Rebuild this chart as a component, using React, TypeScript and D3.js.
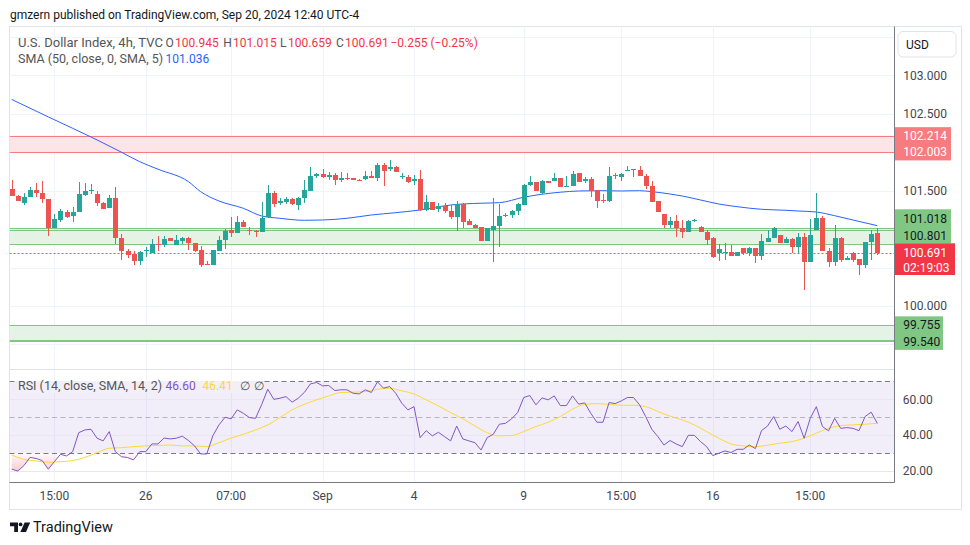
import React from "react";
import * as d3 from "d3";

// 4h candles (oldest first)
const opens = [
  101.521, 101.435, 101.335, 101.413, 101.513, 101.474, 101.396, 101.013, 101.122, 101.226,
  101.174, 101.217, 101.448, 101.5, 101.456, 101.343, 101.27, 101.409, 100.882, 100.713,
  100.678, 100.587, 100.713, 100.691, 100.809, 100.787, 100.887, 100.795, 100.848, 100.887,
  100.822, 100.73, 100.548, 100.535, 100.717, 100.852, 100.987, 100.943, 101.095, 100.987,
  100.974, 100.956, 101.152, 101.469, 101.335, 101.356, 101.391, 101.309, 101.4, 101.5,
  101.687, 101.722, 101.678, 101.7, 101.635, 101.665, 101.669, 101.643, 101.648, 101.695,
  101.661, 101.839, 101.778, 101.813, 101.682, 101.682, 101.622, 101.656, 101.248, 101.356,
  101.261, 101.304, 101.239, 101.152, 101.33, 101.108, 101.052, 101.03, 100.848, 100.991,
  101.043, 101.178, 101.183, 101.23, 101.313, 101.569, 101.617, 101.474, 101.63, 101.622,
  101.669, 101.556, 101.556, 101.735, 101.626, 101.656, 101.513, 101.378, 101.369, 101.704,
  101.674, 101.765, 101.778, 101.774, 101.696, 101.565, 101.369, 101.2, 101.048, 101.108,
  101.013, 100.957, 101.104, 101.03, 100.965, 100.878, 100.687, 100.683, 100.704, 100.656,
  100.752, 100.683, 100.748, 100.652, 100.835, 100.878, 100.926, 100.813, 100.865, 100.761,
  100.9, 100.578, 100.991, 101.143, 100.717, 100.578, 100.883, 100.604, 100.683, 100.613,
  100.535, 100.826, 100.945,
];
const highs = [
  101.639, 101.448, 101.465, 101.543, 101.595, 101.63, 101.396, 101.195, 101.265, 101.252,
  101.291, 101.617, 101.6, 101.587, 101.491, 101.356, 101.448, 101.552, 100.935, 100.735,
  100.709, 100.717, 100.761, 100.874, 100.909, 100.913, 100.887, 100.926, 100.9, 100.9,
  100.822, 100.783, 100.587, 100.73, 100.904, 101.004, 101.161, 101.174, 101.122, 101.03,
  100.987, 101.356, 101.578, 101.5, 101.4, 101.413, 101.404, 101.422, 101.639, 101.804,
  101.735, 101.783, 101.748, 101.735, 101.743, 101.735, 101.669, 101.652, 101.761, 101.761,
  101.865, 101.861, 101.9, 101.826, 101.73, 101.709, 101.7, 101.774, 101.448, 101.356,
  101.335, 101.343, 101.317, 101.369, 101.343, 101.126, 101.065, 101.03, 101.013, 101.4,
  101.326, 101.213, 101.252, 101.339, 101.587, 101.696, 101.617, 101.643, 101.63, 101.726,
  101.669, 101.687, 101.761, 101.735, 101.683, 101.683, 101.513, 101.456, 101.813, 101.726,
  101.735, 101.826, 101.787, 101.826, 101.717, 101.63, 101.369, 101.2, 101.161, 101.187,
  101.122, 101.122, 101.135, 101.043, 100.987, 100.891, 100.8, 100.822, 100.795, 100.704,
  100.752, 100.761, 100.748, 100.935, 100.987, 101.022, 100.926, 100.891, 100.878, 100.952,
  100.952, 101.135, 101.474, 101.169, 100.752, 101.056, 100.896, 100.652, 100.704, 100.613,
  100.835, 100.987, 101.015,
];
const lows = [
  101.426, 101.361, 101.309, 101.413, 101.413, 101.343, 100.913, 101.013, 101.091, 101.143,
  101.087, 101.217, 101.435, 101.456, 101.295, 101.256, 101.27, 100.809, 100.604, 100.622,
  100.535, 100.535, 100.639, 100.691, 100.709, 100.769, 100.848, 100.795, 100.804, 100.726,
  100.704, 100.509, 100.535, 100.535, 100.717, 100.74, 100.891, 100.943, 101.022, 100.926,
  100.891, 100.956, 101.139, 101.282, 101.317, 101.326, 101.317, 101.248, 101.335, 101.491,
  101.665, 101.665, 101.639, 101.574, 101.609, 101.639, 101.635, 101.63, 101.639, 101.661,
  101.622, 101.556, 101.752, 101.739, 101.648, 101.595, 101.569, 101.239, 101.239, 101.252,
  101.222, 101.204, 101.135, 100.969, 101.013, 101.048, 101.013, 100.848, 100.839, 100.578,
  100.761, 101.161, 101.139, 101.187, 101.313, 101.556, 101.491, 101.456, 101.595, 101.622,
  101.543, 101.556, 101.556, 101.609, 101.595, 101.413, 101.27, 101.343, 101.356, 101.652,
  101.63, 101.752, 101.674, 101.687, 101.517, 101.348, 101.217, 101.013, 101.013, 100.891,
  100.878, 100.957, 101.087, 100.957, 100.795, 100.63, 100.587, 100.604, 100.656, 100.656,
  100.661, 100.652, 100.565, 100.596, 100.835, 100.878, 100.813, 100.813, 100.691, 100.691,
  100.209, 100.578, 100.991, 100.709, 100.509, 100.522, 100.578, 100.604, 100.578, 100.404,
  100.5, 100.604, 100.659,
];
const closes = [
  101.426, 101.361, 101.422, 101.509, 101.465, 101.387, 101.013, 101.13, 101.239, 101.161,
  101.226, 101.456, 101.495, 101.509, 101.335, 101.265, 101.409, 100.878, 100.709, 100.669,
  100.587, 100.7, 100.722, 100.809, 100.787, 100.874, 100.848, 100.861, 100.887, 100.813,
  100.717, 100.535, 100.535, 100.73, 100.861, 100.978, 100.943, 101.095, 101.022, 100.974,
  100.965, 101.143, 101.469, 101.326, 101.369, 101.391, 101.326, 101.404, 101.509, 101.696,
  101.722, 101.674, 101.7, 101.635, 101.669, 101.656, 101.635, 101.635, 101.695, 101.661,
  101.839, 101.761, 101.813, 101.748, 101.691, 101.609, 101.656, 101.252, 101.356, 101.252,
  101.304, 101.23, 101.152, 101.33, 101.087, 101.048, 101.013, 100.848, 101.009, 101.043,
  101.174, 101.187, 101.239, 101.33, 101.578, 101.617, 101.491, 101.63, 101.595, 101.669,
  101.543, 101.565, 101.722, 101.609, 101.656, 101.5, 101.369, 101.369, 101.696, 101.691,
  101.713, 101.774, 101.787, 101.687, 101.556, 101.348, 101.217, 101.048, 101.108, 101.013,
  100.957, 101.108, 101.113, 100.957, 100.861, 100.643, 100.735, 100.704, 100.656, 100.704,
  100.683, 100.748, 100.652, 100.848, 100.887, 101.009, 100.813, 100.865, 100.761, 100.9,
  100.578, 100.926, 101.143, 100.709, 100.578, 100.883, 100.604, 100.63, 100.604, 100.535,
  100.835, 100.935, 100.691,
];

// SMA(50) read at sample bars: [bar index, value]
const smaPoints: [number, number][] = [
  [0, 102.685], [6, 102.458], [14, 102.159], [18, 101.999], [21, 101.876], [24, 101.778],
  [29, 101.616], [31, 101.486], [34, 101.365], [38, 101.27], [41, 101.17], [44, 101.14],
  [48, 101.114], [51, 101.118], [55, 101.14], [59, 101.183], [63, 101.213], [67, 101.248],
  [72, 101.313], [77, 101.336], [80, 101.343], [84, 101.414], [87, 101.453], [90, 101.479],
  [93, 101.495], [97, 101.499], [100, 101.495], [103, 101.499], [105, 101.486], [108, 101.456],
  [110, 101.43], [113, 101.378], [116, 101.326], [119, 101.291], [123, 101.257], [127, 101.244],
  [129, 101.235], [132, 101.222], [135, 101.174], [138, 101.118], [142, 101.044],
];

// RSI(14), one value per bar
const rsiValues = [
  21, 20, 23, 27.6, 27, 25.8, 21, 25.2, 29.3, 28.4,
  30.8, 41.4, 42.9, 43.3, 38.3, 36.8, 42, 30.8, 28, 27.5,
  26.2, 30.8, 30.8, 35.1, 35.1, 38.4, 37.9, 38.3, 39.4, 37,
  34, 29.5, 29.5, 39.7, 45.7, 50, 49.1, 54.1, 52.2, 49.8,
  49.4, 57, 65.6, 60, 60.6, 61.5, 58.4, 60.6, 63.8, 68.6,
  69.4, 67.5, 67.7, 64.9, 65.3, 65.3, 63.4, 63, 65.3, 63.8,
  69.7, 66.2, 67.1, 63.4, 57.8, 54.1, 55.9, 38.6, 42.5, 39.6,
  41.6, 39.2, 36.8, 45.1, 37.9, 36.8, 35.8, 31.7, 38.6, 40.5,
  46.1, 46.6, 49.1, 52.6, 61, 62.1, 56.9, 60.8, 59.7, 61.9,
  56.5, 56.5, 61.9, 57.3, 58, 52.2, 47.2, 47.2, 58.2, 57.6,
  59.1, 61, 61, 56.9, 50.4, 43.3, 39.2, 34.5, 37, 35.1,
  33.6, 39.9, 39.9, 36.4, 33.6, 28.6, 29.9, 31.2, 30.3, 32.1,
  32.1, 34.5, 32.5, 42.5, 45.1, 50.4, 43.3, 45.1, 42, 47.6,
  38.3, 49.4, 55.9, 44.8, 42.4, 49.4, 43.8, 44.2, 43.8, 42.5,
  50.4, 52.8, 46.6,
];

// SMA(14) of RSI read at sample bars
const rsiSmaPoints: [number, number][] = [
  [0, 28.9], [2, 26.5], [4, 25.6], [6, 24.9], [8, 25.2], [10, 25.8], [12, 27.6], [14, 30.2],
  [16, 32.7], [18, 33], [20, 33.6], [22, 34], [24, 34.3], [26, 34.5], [28, 34], [30, 34],
  [32, 33.6], [34, 35.8], [36, 38.4], [38, 40.5], [40, 42.9], [42, 45.7], [44, 49.8], [46, 54.1],
  [48, 57.2], [50, 59.7], [52, 61.9], [54, 63.8], [56, 64], [58, 64.3], [60, 65.6], [62, 66.2],
  [64, 64.7], [66, 63], [68, 59.7], [70, 56.3], [72, 52.6], [74, 49.1], [76, 45.1], [78, 41.4],
  [80, 39.6], [82, 39.8], [84, 42], [86, 44.8], [88, 47.2], [90, 50.4], [92, 54.5], [94, 57.1],
  [96, 57.6], [98, 57.1], [100, 56.7], [102, 56.7], [104, 55.9], [106, 53.2], [108, 50.6],
  [110, 48.5], [112, 45.7], [114, 42], [116, 38.3], [118, 35.1], [120, 34], [122, 33.6],
  [124, 34.4], [126, 35.5], [128, 36.4], [130, 38.3], [132, 41.1], [134, 43.8], [136, 45.3],
  [138, 45.7], [140, 46.1], [142, 46.6],
];

const timeTicks = [
  { i: 7, label: "15:00" }, { i: 22, label: "26" }, { i: 36, label: "07:00" },
  { i: 51, label: "Sep" }, { i: 66, label: "4" }, { i: 84, label: "9" },
  { i: 100, label: "15:00" }, { i: 115, label: "16" }, { i: 131, label: "15:00" },
];
const priceGrid = [99.5, 100, 100.5, 101, 101.5, 102, 102.5, 103, 103.5];
const priceTicks = [103, 102.5, 101.5, 100];
const rsiGrid = [60, 40, 20];
const redZone = [102.214, 102.003];
const greenZoneA = [101.018, 100.992, 100.801];
const greenZoneB = [99.755, 99.56, 99.54];
const lastPrice = 100.691;

const UP = "#26a69a";
const DOWN = "#ef5350";
const FONT = "Roboto, 'Open Sans', sans-serif";

export default function App() {
  const W = 970;
  const H = 545;
  const left = 9.5;
  const right = 894.5;
  const top = 26.5;
  const mainBottom = 369.5;
  const rsiBottom = 482.5;

  const x = d3.scaleLinear().domain([0, closes.length - 1]).range([11.7, 877.3]);
  const y = d3.scaleLinear().domain([100, 101.5]).range([306, 190.6]);
  const yR = d3.scaleLinear().domain([20, 60]).range([471, 399.3]);

  const smaLine = d3
    .line<[number, number]>()
    .x((d) => x(d[0]))
    .y((d) => y(d[1]))
    .curve(d3.curveMonotoneX);
  const rsiLine = d3
    .line<number>()
    .x((d, i) => x(i))
    .y((d) => yR(d));
  const rsiSmaLine = d3
    .line<[number, number]>()
    .x((d) => x(d[0]))
    .y((d) => yR(d[1]))
    .curve(d3.curveMonotoneX);
  const oversold = d3
    .area<number>()
    .x((d, i) => x(i))
    .y0(yR(30))
    .y1((d) => yR(Math.min(d, 30)));

  const zoneRect = (a: number, b: number, fill: string) => (
    <rect x={left} y={y(a)} width={right - left} height={y(b) - y(a)} fill={fill} />
  );
  const hline = (p: number, color: string, key?: string) => (
    <line key={key} x1={left} x2={right} y1={Math.round(y(p)) + 0.5} y2={Math.round(y(p)) + 0.5} stroke={color} />
  );

  return (
    <svg width={W} height={H} style={{ position: "absolute", left: 0, top: 0, background: "#fff" }} fontFamily={FONT}>
      <defs>
        <clipPath id="mainClip">
          <rect x={left} y={top} width={right - left} height={mainBottom - top} />
        </clipPath>
        <clipPath id="rsiClip">
          <rect x={left} y={mainBottom + 0.5} width={right - left} height={rsiBottom - mainBottom - 0.5} />
        </clipPath>
        <linearGradient id="osGrad" gradientUnits="userSpaceOnUse" x1="0" x2="0" y1={yR(30)} y2={yR(0)}>
          <stop offset="0" stopColor="#f23645" stopOpacity={0.02} />
          <stop offset="1" stopColor="#f23645" stopOpacity={0.75} />
        </linearGradient>
      </defs>
      <rect width={W} height={H} fill="#fff" />

      <text x={10} y={19} fontSize={12} fill="#131722">
        gmzern published on TradingView.com, Sep 20, 2024 12:40 UTC-4
      </text>

      {/* frame */}
      <rect x={left} y={top} width={961.5 - left} height={509.5 - top} fill="none" stroke="#e0e3eb" />

      {/* grid */}
      {priceGrid.map((p) => (
        <line key={"pg" + p} x1={left} x2={right} y1={Math.round(y(p)) + 0.5} y2={Math.round(y(p)) + 0.5} stroke="#f0f3fa" />
      ))}
      {timeTicks.map((t) => (
        <line key={"vg" + t.i} x1={Math.round(x(t.i)) + 0.5} x2={Math.round(x(t.i)) + 0.5} y1={top} y2={rsiBottom} stroke="#f0f3fa" />
      ))}

      {/* main pane */}
      <g clipPath="url(#mainClip)">
        {zoneRect(redZone[0], redZone[1], "#fde4e6")}
        {hline(redZone[0], "#f77c80")}
        {hline(redZone[1], "#f77c80")}
        {zoneRect(greenZoneA[0], greenZoneA[2], "#e4f3e5")}
        {greenZoneA.map((p, k) => hline(p, "#81c784", "ga" + k))}
        {zoneRect(greenZoneB[0], greenZoneB[2], "#e4f3e5")}
        {greenZoneB.map((p, k) => hline(p, "#81c784", "gb" + k))}

        <path d={smaLine(smaPoints) || ""} fill="none" stroke="#2962ff" strokeWidth={1} />

        <line
          x1={left}
          x2={right}
          y1={Math.round(y(lastPrice)) + 0.5}
          y2={Math.round(y(lastPrice)) + 0.5}
          stroke="#ef5350"
          strokeDasharray="2 2"
        />

        <g shapeRendering="crispEdges">
          {closes.map((c, i) => {
            const o = opens[i];
            const color = c >= o ? UP : DOWN;
            const cx = Math.round(x(i));
            const bt = Math.round(y(Math.max(o, c)));
            const bb = Math.round(y(Math.min(o, c)));
            return (
              <g key={i}>
                <rect x={cx} y={Math.round(y(highs[i]))} width={1} height={Math.max(1, Math.round(y(lows[i])) - Math.round(y(highs[i])))} fill={color} />
                <rect x={cx - 2} y={bt} width={5} height={Math.max(1, bb - bt)} fill={color} />
              </g>
            );
          })}
        </g>
      </g>

      {/* main legend */}
      <text x={18} y={47} fontSize={13} fill="#555">
        U.S. Dollar Index, 4h, TVC
      </text>
      <g fontSize={12}>
        <text x={165.5} y={47} fill="#555">O</text>
        <text x={175} y={47} fill="#f23645">100.945</text>
        <text x={223.3} y={47} fill="#555">H</text>
        <text x={233} y={47} fill="#f23645">101.015</text>
        <text x={280} y={47} fill="#555">L</text>
        <text x={288} y={47} fill="#f23645">100.659</text>
        <text x={336} y={47} fill="#555">C</text>
        <text x={345} y={47} fill="#f23645">100.691</text>
        <text x={390.5} y={47} fill="#f23645">−0.255 (−0.25%)</text>
      </g>
      <text x={18} y={63} fontSize={12.5} fill="#555">
        SMA (50, close, 0, SMA, 5)
      </text>
      <text x={165.5} y={63} fontSize={12} fill="#2962ff">
        101.036
      </text>

      {/* pane separator */}
      <line x1={left} x2={right} y1={mainBottom} y2={mainBottom} stroke="#e0e3eb" />

      {/* RSI pane */}
      <g clipPath="url(#rsiClip)">
        <rect x={left} y={yR(70)} width={right - left} height={yR(30) - yR(70)} fill="#7e57c2" fillOpacity={0.1} />
        {rsiGrid.map((v) => (
          <line key={"rg" + v} x1={left} x2={right} y1={Math.round(yR(v)) + 0.5} y2={Math.round(yR(v)) + 0.5} stroke="#e9e6f3" />
        ))}
        <line x1={left} x2={right} y1={Math.round(yR(70)) + 0.5} y2={Math.round(yR(70)) + 0.5} stroke="#787b86" strokeDasharray="5 3.5" />
        <line x1={left} x2={right} y1={Math.round(yR(50)) + 0.5} y2={Math.round(yR(50)) + 0.5} stroke="#787b86" strokeOpacity={0.5} strokeDasharray="5 3.5" />
        <line x1={left} x2={right} y1={Math.round(yR(30)) + 0.5} y2={Math.round(yR(30)) + 0.5} stroke="#787b86" strokeDasharray="5 3.5" />
        <path d={oversold(rsiValues) || ""} fill="url(#osGrad)" />
        <path d={rsiSmaLine(rsiSmaPoints) || ""} fill="none" stroke="#fdd835" strokeWidth={1} />
        <path d={rsiLine(rsiValues) || ""} fill="none" stroke="#7e57c2" strokeWidth={1} />
      </g>

      {/* RSI legend */}
      <rect x={16} y={381} width={248} height={12} fill="#f2eff9" />
      <text x={18} y={390} fontSize={12.5} fill="#555">
        RSI (14, close, SMA, 14, 2)
      </text>
      <g fontSize={12}>
        <text x={165.5} y={390} fill="#7e57c2">46.60</text>
        <text x={202.5} y={390} fill="#fdd835">46.41</text>
        <text x={240} y={390} fill="#555">∅</text>
        <text x={254} y={390} fill="#555">∅</text>
      </g>

      {/* time axis */}
      <line x1={left} x2={right} y1={rsiBottom} y2={rsiBottom} stroke="#787b86" />
      {timeTicks.map((t) => (
        <text key={"tl" + t.i} x={x(t.i)} y={500} fontSize={12} fill="#434651" textAnchor="middle">
          {t.label}
        </text>
      ))}

      {/* price axis */}
      <line x1={right} x2={right} y1={top} y2={rsiBottom} stroke="#787b86" />
      <rect x={898} y={31.5} width={58} height={25.5} rx={5} fill="#fff" stroke="#e0e3eb" />
      <text x={906} y={48.5} fontSize={12} fill="#131722">
        USD
      </text>
      {priceTicks.map((p) => (
        <text key={"pt" + p} x={903.3} y={y(p) + 4.3} fontSize={12} fill="#434651">
          {p.toFixed(3)}
        </text>
      ))}
      {rsiGrid.map((v) => (
        <text key={"rt" + v} x={902.7} y={yR(v) + 4.3} fontSize={12} fill="#434651">
          {v.toFixed(2)}
        </text>
      ))}

      {/* price labels */}
      <rect x={895} y={y(redZone[0]) - 8.5} width={56} height={y(redZone[1]) - y(redZone[0]) + 17} fill="#f77c80" />
      <text x={903.3} y={y(redZone[0]) + 4.3} fontSize={12} fill="#fff">
        {redZone[0].toFixed(3)}
      </text>
      <text x={903.3} y={y(redZone[1]) + 4.3} fontSize={12} fill="#fff">
        {redZone[1].toFixed(3)}
      </text>

      <rect x={895} y={209.3} width={56} height={34} fill="#81c784" />
      <text x={903.3} y={222.6} fontSize={12} fill="#131722">
        {greenZoneA[0].toFixed(3)}
      </text>
      <text x={903.3} y={240} fontSize={12} fill="#131722">
        {greenZoneA[2].toFixed(3)}
      </text>

      <rect x={895} y={243.3} width={60} height={31.7} fill="#f23645" />
      <text x={903.3} y={y(lastPrice) + 4} fontSize={12} fill="#fff">
        {lastPrice.toFixed(3)}
      </text>
      <text x={903.3} y={272} fontSize={12} fill="#fff">
        02:19:03
      </text>

      <rect x={895} y={y(greenZoneB[0]) - 8.5} width={48} height={y(greenZoneB[2]) - y(greenZoneB[0]) + 17} fill="#81c784" />
      <text x={903.3} y={y(greenZoneB[0]) + 4.3} fontSize={12} fill="#131722">
        {greenZoneB[0].toFixed(3)}
      </text>
      <text x={903.3} y={y(greenZoneB[2]) + 4.3} fontSize={12} fill="#131722">
        {greenZoneB[2].toFixed(3)}
      </text>

      {/* logo */}
      <g fill="#131722">
        <path d="M10 522.5 H18 V532 H14.2 V526.3 H10 Z" />
        <circle cx={20.6} cy={524.4} r={1.9} />
        <path d="M24.6 522.5 H30.2 L26 532 H20.4 Z" />
      </g>
      <text x={33} y={532} fontSize={14.5} fill="#131722">
        TradingView
      </text>
    </svg>
  );
}
